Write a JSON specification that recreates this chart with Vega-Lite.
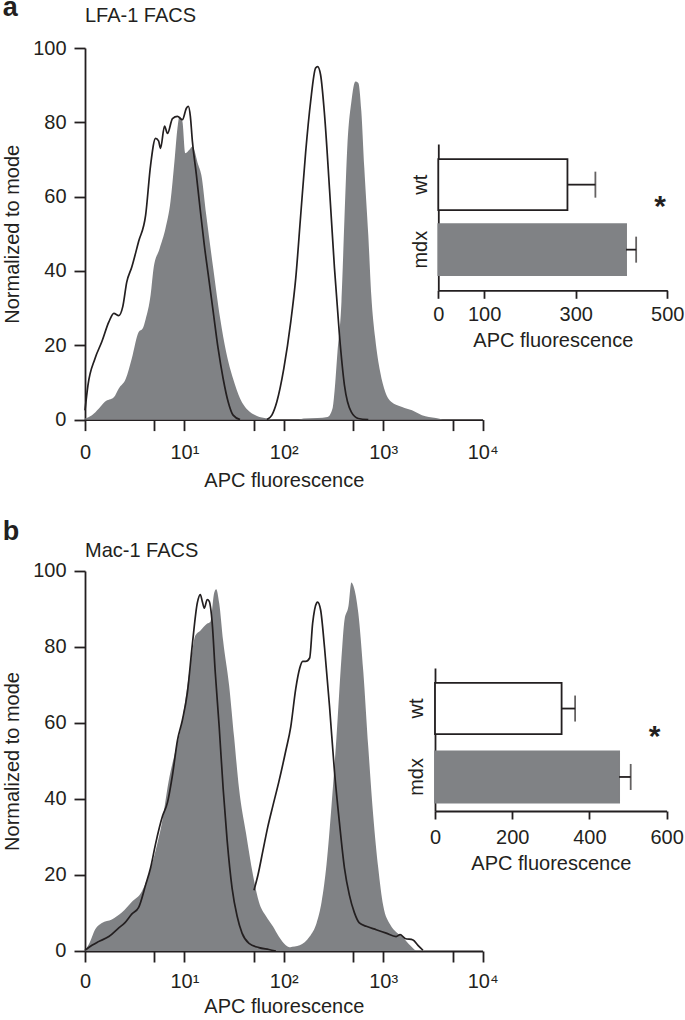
{
"$schema": "https://vega.github.io/schema/vega-lite/v6.json",
"padding": {"left": 2, "top": -6, "right": 0, "bottom": 0},
"config": {
  "font": "Liberation Sans",
  "view": {"stroke": null},
  "axis": {"grid": false, "domainColor": "#231f20", "tickColor": "#231f20", "labelColor": "#231f20", "titleColor": "#231f20", "labelFontSize": 20, "titleFontSize": 20, "titleFontWeight": "normal", "domainWidth": 1.8, "tickWidth": 1.8, "labelFont": "Liberation Sans", "titleFont": "Liberation Sans"},
  "title": {"font": "Liberation Sans", "color": "#231f20"}
},
"datasets": {
  "histA": [
    {"sample":"mdx iso-control","strain":"mdx","log_apc":0,"pct":0.3},{"sample":"mdx iso-control","strain":"mdx","log_apc":0.07,"pct":1.2},{"sample":"mdx iso-control","strain":"mdx","log_apc":0.14,"pct":3},{"sample":"mdx iso-control","strain":"mdx","log_apc":0.2,"pct":4.8},{"sample":"mdx iso-control","strain":"mdx","log_apc":0.29,"pct":6},{"sample":"mdx iso-control","strain":"mdx","log_apc":0.34,"pct":8.4},{"sample":"mdx iso-control","strain":"mdx","log_apc":0.41,"pct":11},{"sample":"mdx iso-control","strain":"mdx","log_apc":0.47,"pct":16.4},{"sample":"mdx iso-control","strain":"mdx","log_apc":0.54,"pct":23.6},{"sample":"mdx iso-control","strain":"mdx","log_apc":0.58,"pct":24.5},{"sample":"mdx iso-control","strain":"mdx","log_apc":0.61,"pct":27},{"sample":"mdx iso-control","strain":"mdx","log_apc":0.66,"pct":33.5},{"sample":"mdx iso-control","strain":"mdx","log_apc":0.69,"pct":40.7},{"sample":"mdx iso-control","strain":"mdx","log_apc":0.75,"pct":46},{"sample":"mdx iso-control","strain":"mdx","log_apc":0.81,"pct":51.5},{"sample":"mdx iso-control","strain":"mdx","log_apc":0.86,"pct":58.7},{"sample":"mdx iso-control","strain":"mdx","log_apc":0.9,"pct":69.5},{"sample":"mdx iso-control","strain":"mdx","log_apc":0.93,"pct":78.4},{"sample":"mdx iso-control","strain":"mdx","log_apc":0.95,"pct":81.6},{"sample":"mdx iso-control","strain":"mdx","log_apc":0.98,"pct":80.2},{"sample":"mdx iso-control","strain":"mdx","log_apc":1.01,"pct":71.7},{"sample":"mdx iso-control","strain":"mdx","log_apc":1.05,"pct":72.6},{"sample":"mdx iso-control","strain":"mdx","log_apc":1.08,"pct":73.5},{"sample":"mdx iso-control","strain":"mdx","log_apc":1.14,"pct":68.5},{"sample":"mdx iso-control","strain":"mdx","log_apc":1.17,"pct":65.9},{"sample":"mdx iso-control","strain":"mdx","log_apc":1.22,"pct":55},{"sample":"mdx iso-control","strain":"mdx","log_apc":1.29,"pct":40.7},{"sample":"mdx iso-control","strain":"mdx","log_apc":1.36,"pct":27.2},{"sample":"mdx iso-control","strain":"mdx","log_apc":1.42,"pct":18.2},{"sample":"mdx iso-control","strain":"mdx","log_apc":1.49,"pct":11},{"sample":"mdx iso-control","strain":"mdx","log_apc":1.56,"pct":5.7},{"sample":"mdx iso-control","strain":"mdx","log_apc":1.64,"pct":2.5},{"sample":"mdx iso-control","strain":"mdx","log_apc":1.73,"pct":1},{"sample":"mdx iso-control","strain":"mdx","log_apc":1.83,"pct":0.3},{"sample":"mdx iso-control","strain":"mdx","log_apc":1.9,"pct":0},
    {"sample":"mdx","strain":"mdx","log_apc":2.15,"pct":0},{"sample":"mdx","strain":"mdx","log_apc":2.2,"pct":0.3},{"sample":"mdx","strain":"mdx","log_apc":2.34,"pct":0.4},{"sample":"mdx","strain":"mdx","log_apc":2.44,"pct":0.7},{"sample":"mdx","strain":"mdx","log_apc":2.49,"pct":3},{"sample":"mdx","strain":"mdx","log_apc":2.51,"pct":7.5},{"sample":"mdx","strain":"mdx","log_apc":2.54,"pct":18.2},{"sample":"mdx","strain":"mdx","log_apc":2.58,"pct":31.7},{"sample":"mdx","strain":"mdx","log_apc":2.61,"pct":54},{"sample":"mdx","strain":"mdx","log_apc":2.64,"pct":74},{"sample":"mdx","strain":"mdx","log_apc":2.68,"pct":85.6},{"sample":"mdx","strain":"mdx","log_apc":2.72,"pct":91},{"sample":"mdx","strain":"mdx","log_apc":2.75,"pct":90.6},{"sample":"mdx","strain":"mdx","log_apc":2.78,"pct":83},{"sample":"mdx","strain":"mdx","log_apc":2.81,"pct":67.7},{"sample":"mdx","strain":"mdx","log_apc":2.85,"pct":49.7},{"sample":"mdx","strain":"mdx","log_apc":2.88,"pct":33.5},{"sample":"mdx","strain":"mdx","log_apc":2.92,"pct":21.8},{"sample":"mdx","strain":"mdx","log_apc":2.97,"pct":12.8},{"sample":"mdx","strain":"mdx","log_apc":3.02,"pct":7.5},{"sample":"mdx","strain":"mdx","log_apc":3.08,"pct":4.8},{"sample":"mdx","strain":"mdx","log_apc":3.19,"pct":3.4},{"sample":"mdx","strain":"mdx","log_apc":3.29,"pct":2.5},{"sample":"mdx","strain":"mdx","log_apc":3.39,"pct":1.2},{"sample":"mdx","strain":"mdx","log_apc":3.53,"pct":0.4},{"sample":"mdx","strain":"mdx","log_apc":3.6,"pct":0},
    {"sample":"WT iso-control","strain":"wt","log_apc":0,"pct":2.5},{"sample":"WT iso-control","strain":"wt","log_apc":0.03,"pct":9.3},{"sample":"WT iso-control","strain":"wt","log_apc":0.1,"pct":16.4},{"sample":"WT iso-control","strain":"wt","log_apc":0.17,"pct":21},{"sample":"WT iso-control","strain":"wt","log_apc":0.24,"pct":26.3},{"sample":"WT iso-control","strain":"wt","log_apc":0.29,"pct":28.6},{"sample":"WT iso-control","strain":"wt","log_apc":0.34,"pct":28},{"sample":"WT iso-control","strain":"wt","log_apc":0.38,"pct":30.4},{"sample":"WT iso-control","strain":"wt","log_apc":0.42,"pct":37},{"sample":"WT iso-control","strain":"wt","log_apc":0.47,"pct":41},{"sample":"WT iso-control","strain":"wt","log_apc":0.54,"pct":48},{"sample":"WT iso-control","strain":"wt","log_apc":0.61,"pct":55},{"sample":"WT iso-control","strain":"wt","log_apc":0.66,"pct":68.5},{"sample":"WT iso-control","strain":"wt","log_apc":0.71,"pct":75.7},{"sample":"WT iso-control","strain":"wt","log_apc":0.74,"pct":75},{"sample":"WT iso-control","strain":"wt","log_apc":0.76,"pct":73},{"sample":"WT iso-control","strain":"wt","log_apc":0.8,"pct":79},{"sample":"WT iso-control","strain":"wt","log_apc":0.83,"pct":77},{"sample":"WT iso-control","strain":"wt","log_apc":0.88,"pct":81},{"sample":"WT iso-control","strain":"wt","log_apc":0.93,"pct":81.6},{"sample":"WT iso-control","strain":"wt","log_apc":0.98,"pct":80.7},{"sample":"WT iso-control","strain":"wt","log_apc":1.02,"pct":83.8},{"sample":"WT iso-control","strain":"wt","log_apc":1.04,"pct":84.3},{"sample":"WT iso-control","strain":"wt","log_apc":1.06,"pct":81.6},{"sample":"WT iso-control","strain":"wt","log_apc":1.08,"pct":75},{"sample":"WT iso-control","strain":"wt","log_apc":1.12,"pct":66},{"sample":"WT iso-control","strain":"wt","log_apc":1.15,"pct":58.7},{"sample":"WT iso-control","strain":"wt","log_apc":1.2,"pct":47},{"sample":"WT iso-control","strain":"wt","log_apc":1.24,"pct":39},{"sample":"WT iso-control","strain":"wt","log_apc":1.29,"pct":29},{"sample":"WT iso-control","strain":"wt","log_apc":1.34,"pct":19},{"sample":"WT iso-control","strain":"wt","log_apc":1.39,"pct":11},{"sample":"WT iso-control","strain":"wt","log_apc":1.44,"pct":4.8},{"sample":"WT iso-control","strain":"wt","log_apc":1.49,"pct":1.2},{"sample":"WT iso-control","strain":"wt","log_apc":1.56,"pct":0},
    {"sample":"WT","strain":"wt","log_apc":1.83,"pct":0},{"sample":"WT","strain":"wt","log_apc":1.88,"pct":1.2},{"sample":"WT","strain":"wt","log_apc":1.93,"pct":4.8},{"sample":"WT","strain":"wt","log_apc":2.0,"pct":13.7},{"sample":"WT","strain":"wt","log_apc":2.07,"pct":26.3},{"sample":"WT","strain":"wt","log_apc":2.12,"pct":38},{"sample":"WT","strain":"wt","log_apc":2.17,"pct":55},{"sample":"WT","strain":"wt","log_apc":2.22,"pct":72},{"sample":"WT","strain":"wt","log_apc":2.27,"pct":85.6},{"sample":"WT","strain":"wt","log_apc":2.32,"pct":94.6},{"sample":"WT","strain":"wt","log_apc":2.34,"pct":95},{"sample":"WT","strain":"wt","log_apc":2.37,"pct":92.8},{"sample":"WT","strain":"wt","log_apc":2.41,"pct":82},{"sample":"WT","strain":"wt","log_apc":2.46,"pct":62},{"sample":"WT","strain":"wt","log_apc":2.51,"pct":40.7},{"sample":"WT","strain":"wt","log_apc":2.56,"pct":22.7},{"sample":"WT","strain":"wt","log_apc":2.61,"pct":9.3},{"sample":"WT","strain":"wt","log_apc":2.68,"pct":2},{"sample":"WT","strain":"wt","log_apc":2.75,"pct":0.3},{"sample":"WT","strain":"wt","log_apc":2.85,"pct":0}
  ],
  "histB": [
    {"sample":"mdx iso-control","strain":"mdx","log_apc":0,"pct":0.2},{"sample":"mdx iso-control","strain":"mdx","log_apc":0.05,"pct":2.4},{"sample":"mdx iso-control","strain":"mdx","log_apc":0.1,"pct":5.6},{"sample":"mdx iso-control","strain":"mdx","log_apc":0.17,"pct":7.4},{"sample":"mdx iso-control","strain":"mdx","log_apc":0.27,"pct":8.3},{"sample":"mdx iso-control","strain":"mdx","log_apc":0.37,"pct":10.1},{"sample":"mdx iso-control","strain":"mdx","log_apc":0.47,"pct":12.9},{"sample":"mdx iso-control","strain":"mdx","log_apc":0.57,"pct":15.6},{"sample":"mdx iso-control","strain":"mdx","log_apc":0.64,"pct":20},{"sample":"mdx iso-control","strain":"mdx","log_apc":0.71,"pct":26.4},{"sample":"mdx iso-control","strain":"mdx","log_apc":0.78,"pct":34.6},{"sample":"mdx iso-control","strain":"mdx","log_apc":0.84,"pct":44.5},{"sample":"mdx iso-control","strain":"mdx","log_apc":0.91,"pct":52.7},{"sample":"mdx iso-control","strain":"mdx","log_apc":0.96,"pct":58},{"sample":"mdx iso-control","strain":"mdx","log_apc":1.01,"pct":66.2},{"sample":"mdx iso-control","strain":"mdx","log_apc":1.06,"pct":75.3},{"sample":"mdx iso-control","strain":"mdx","log_apc":1.11,"pct":83},{"sample":"mdx iso-control","strain":"mdx","log_apc":1.16,"pct":84.3},{"sample":"mdx iso-control","strain":"mdx","log_apc":1.23,"pct":86.2},{"sample":"mdx iso-control","strain":"mdx","log_apc":1.26,"pct":86.6},{"sample":"mdx iso-control","strain":"mdx","log_apc":1.3,"pct":94.3},{"sample":"mdx iso-control","strain":"mdx","log_apc":1.32,"pct":95.2},{"sample":"mdx iso-control","strain":"mdx","log_apc":1.35,"pct":91.6},{"sample":"mdx iso-control","strain":"mdx","log_apc":1.39,"pct":81.6},{"sample":"mdx iso-control","strain":"mdx","log_apc":1.45,"pct":69.9},{"sample":"mdx iso-control","strain":"mdx","log_apc":1.5,"pct":56.3},{"sample":"mdx iso-control","strain":"mdx","log_apc":1.55,"pct":42.7},{"sample":"mdx iso-control","strain":"mdx","log_apc":1.62,"pct":31},{"sample":"mdx iso-control","strain":"mdx","log_apc":1.69,"pct":20},{"sample":"mdx iso-control","strain":"mdx","log_apc":1.75,"pct":12.9},{"sample":"mdx iso-control","strain":"mdx","log_apc":1.82,"pct":9.2},{"sample":"mdx iso-control","strain":"mdx","log_apc":1.89,"pct":6.5},{"sample":"mdx iso-control","strain":"mdx","log_apc":1.95,"pct":3.8},{"sample":"mdx iso-control","strain":"mdx","log_apc":2.02,"pct":1.5},{"sample":"mdx iso-control","strain":"mdx","log_apc":2.09,"pct":0.6},{"sample":"mdx iso-control","strain":"mdx","log_apc":2.15,"pct":0},
    {"sample":"mdx","strain":"mdx","log_apc":2.0,"pct":0},{"sample":"mdx","strain":"mdx","log_apc":2.06,"pct":0.9},{"sample":"mdx","strain":"mdx","log_apc":2.16,"pct":1.5},{"sample":"mdx","strain":"mdx","log_apc":2.26,"pct":3.8},{"sample":"mdx","strain":"mdx","log_apc":2.33,"pct":7.4},{"sample":"mdx","strain":"mdx","log_apc":2.38,"pct":12.9},{"sample":"mdx","strain":"mdx","log_apc":2.43,"pct":22.8},{"sample":"mdx","strain":"mdx","log_apc":2.48,"pct":38.2},{"sample":"mdx","strain":"mdx","log_apc":2.53,"pct":56.3},{"sample":"mdx","strain":"mdx","log_apc":2.58,"pct":77.1},{"sample":"mdx","strain":"mdx","log_apc":2.61,"pct":87},{"sample":"mdx","strain":"mdx","log_apc":2.65,"pct":90.7},{"sample":"mdx","strain":"mdx","log_apc":2.68,"pct":97},{"sample":"mdx","strain":"mdx","log_apc":2.7,"pct":96.1},{"sample":"mdx","strain":"mdx","log_apc":2.75,"pct":88.9},{"sample":"mdx","strain":"mdx","log_apc":2.8,"pct":73.5},{"sample":"mdx","strain":"mdx","log_apc":2.85,"pct":53.6},{"sample":"mdx","strain":"mdx","log_apc":2.9,"pct":35.5},{"sample":"mdx","strain":"mdx","log_apc":2.95,"pct":21.9},{"sample":"mdx","strain":"mdx","log_apc":3.0,"pct":12},{"sample":"mdx","strain":"mdx","log_apc":3.07,"pct":7},{"sample":"mdx","strain":"mdx","log_apc":3.13,"pct":5},{"sample":"mdx","strain":"mdx","log_apc":3.2,"pct":3.5},{"sample":"mdx","strain":"mdx","log_apc":3.27,"pct":1.5},{"sample":"mdx","strain":"mdx","log_apc":3.33,"pct":0},
    {"sample":"WT iso-control","strain":"wt","log_apc":0,"pct":0.2},{"sample":"WT iso-control","strain":"wt","log_apc":0.07,"pct":1.5},{"sample":"WT iso-control","strain":"wt","log_apc":0.13,"pct":2.4},{"sample":"WT iso-control","strain":"wt","log_apc":0.24,"pct":3.8},{"sample":"WT iso-control","strain":"wt","log_apc":0.34,"pct":6.1},{"sample":"WT iso-control","strain":"wt","log_apc":0.4,"pct":7.4},{"sample":"WT iso-control","strain":"wt","log_apc":0.47,"pct":9.7},{"sample":"WT iso-control","strain":"wt","log_apc":0.54,"pct":11.5},{"sample":"WT iso-control","strain":"wt","log_apc":0.61,"pct":17.4},{"sample":"WT iso-control","strain":"wt","log_apc":0.66,"pct":21.9},{"sample":"WT iso-control","strain":"wt","log_apc":0.71,"pct":28.2},{"sample":"WT iso-control","strain":"wt","log_apc":0.78,"pct":35.5},{"sample":"WT iso-control","strain":"wt","log_apc":0.83,"pct":39.1},{"sample":"WT iso-control","strain":"wt","log_apc":0.88,"pct":46.3},{"sample":"WT iso-control","strain":"wt","log_apc":0.93,"pct":55.4},{"sample":"WT iso-control","strain":"wt","log_apc":0.98,"pct":60.8},{"sample":"WT iso-control","strain":"wt","log_apc":1.03,"pct":68},{"sample":"WT iso-control","strain":"wt","log_apc":1.08,"pct":80.7},{"sample":"WT iso-control","strain":"wt","log_apc":1.13,"pct":91.6},{"sample":"WT iso-control","strain":"wt","log_apc":1.16,"pct":93.8},{"sample":"WT iso-control","strain":"wt","log_apc":1.18,"pct":92},{"sample":"WT iso-control","strain":"wt","log_apc":1.2,"pct":90.2},{"sample":"WT iso-control","strain":"wt","log_apc":1.23,"pct":92.5},{"sample":"WT iso-control","strain":"wt","log_apc":1.25,"pct":92},{"sample":"WT iso-control","strain":"wt","log_apc":1.28,"pct":86.2},{"sample":"WT iso-control","strain":"wt","log_apc":1.31,"pct":73.5},{"sample":"WT iso-control","strain":"wt","log_apc":1.35,"pct":59},{"sample":"WT iso-control","strain":"wt","log_apc":1.39,"pct":42.7},{"sample":"WT iso-control","strain":"wt","log_apc":1.43,"pct":29.1},{"sample":"WT iso-control","strain":"wt","log_apc":1.48,"pct":16.5},{"sample":"WT iso-control","strain":"wt","log_apc":1.53,"pct":9.2},{"sample":"WT iso-control","strain":"wt","log_apc":1.58,"pct":4.7},{"sample":"WT iso-control","strain":"wt","log_apc":1.65,"pct":2},{"sample":"WT iso-control","strain":"wt","log_apc":1.75,"pct":0.9},{"sample":"WT iso-control","strain":"wt","log_apc":1.85,"pct":0.4},{"sample":"WT iso-control","strain":"wt","log_apc":1.92,"pct":0},
    {"sample":"WT","strain":"wt","log_apc":1.7,"pct":16},{"sample":"WT","strain":"wt","log_apc":1.74,"pct":20},{"sample":"WT","strain":"wt","log_apc":1.79,"pct":26.4},{"sample":"WT","strain":"wt","log_apc":1.84,"pct":32.8},{"sample":"WT","strain":"wt","log_apc":1.89,"pct":38.2},{"sample":"WT","strain":"wt","log_apc":1.95,"pct":44.5},{"sample":"WT","strain":"wt","log_apc":2.02,"pct":52.7},{"sample":"WT","strain":"wt","log_apc":2.07,"pct":59},{"sample":"WT","strain":"wt","log_apc":2.12,"pct":69},{"sample":"WT","strain":"wt","log_apc":2.16,"pct":74.4},{"sample":"WT","strain":"wt","log_apc":2.19,"pct":76.2},{"sample":"WT","strain":"wt","log_apc":2.22,"pct":76.2},{"sample":"WT","strain":"wt","log_apc":2.26,"pct":77.1},{"sample":"WT","strain":"wt","log_apc":2.29,"pct":86.2},{"sample":"WT","strain":"wt","log_apc":2.33,"pct":91.6},{"sample":"WT","strain":"wt","log_apc":2.34,"pct":91.8},{"sample":"WT","strain":"wt","log_apc":2.37,"pct":89.8},{"sample":"WT","strain":"wt","log_apc":2.41,"pct":79.8},{"sample":"WT","strain":"wt","log_apc":2.46,"pct":64.4},{"sample":"WT","strain":"wt","log_apc":2.51,"pct":47.2},{"sample":"WT","strain":"wt","log_apc":2.56,"pct":33.7},{"sample":"WT","strain":"wt","log_apc":2.61,"pct":21.9},{"sample":"WT","strain":"wt","log_apc":2.66,"pct":14.7},{"sample":"WT","strain":"wt","log_apc":2.71,"pct":10.1},{"sample":"WT","strain":"wt","log_apc":2.76,"pct":7.4},{"sample":"WT","strain":"wt","log_apc":2.83,"pct":6.5},{"sample":"WT","strain":"wt","log_apc":2.93,"pct":5.6},{"sample":"WT","strain":"wt","log_apc":3.03,"pct":4.7},{"sample":"WT","strain":"wt","log_apc":3.13,"pct":3.8},{"sample":"WT","strain":"wt","log_apc":3.17,"pct":4.3},{"sample":"WT","strain":"wt","log_apc":3.22,"pct":3.3},{"sample":"WT","strain":"wt","log_apc":3.3,"pct":2.9},{"sample":"WT","strain":"wt","log_apc":3.35,"pct":1.5},{"sample":"WT","strain":"wt","log_apc":3.4,"pct":0.2}
  ],
  "barsA": [{"group":"wt","mean":282,"upper":343,"sig":""},{"group":"mdx","mean":410,"upper":432,"sig":"*"}],
  "barsB": [{"group":"wt","mean":328,"upper":363,"sig":""},{"group":"mdx","mean":477,"upper":507,"sig":"*"}]
},
"spacing": 27,
"vconcat": [
  {
    "title": {"text": "a", "anchor": "start", "frame": "bounds", "fontSize": 27, "fontWeight": "bold", "offset": -16},
    "vconcat": [{
      "width": 397.6, "height": 371.6,
      "title": {"text": "LFA-1 FACS", "anchor": "start", "frame": "group", "fontSize": 20, "fontWeight": "normal", "offset": 12},
      "layer": [
        {
          "data": {"name": "histA"},
          "layer": [
            {"transform": [{"filter": "datum.strain == 'mdx'"}],
             "mark": {"type": "area", "color": "#808285", "interpolate": "monotone"},
             "encoding": {
               "x": {"field": "log_apc", "type": "quantitative", "scale": {"domain": [0, 4], "nice": false, "zero": false},
                     "axis": {"title": "APC fluorescence", "orient": "bottom", "values": [0, 0.699, 1, 1.699, 2, 2.699, 3, 3.699, 4], "labelExpr": "datum.value==0?'0':datum.value==1?'10¹':datum.value==2?'10²':datum.value==3?'10³':datum.value==4?'10⁴':''", "tickSize": 11, "labelPadding": 12, "titlePadding": 8, "labelFlush": false, "labelOverlap": false}},
               "y": {"field": "pct", "type": "quantitative", "stack": null, "scale": {"domain": [0, 100], "nice": false},
                     "axis": {"title": "Normalized to mode", "orient": "left", "values": [0, 20, 40, 60, 80, 100], "tickSize": 11, "labelPadding": 8, "titlePadding": 10}},
               "detail": {"field": "sample"}
             }},
            {"transform": [{"filter": "datum.strain == 'wt'"}],
             "mark": {"type": "line", "color": "#231f20", "strokeWidth": 1.7, "interpolate": "monotone"},
             "encoding": {
               "x": {"field": "log_apc", "type": "quantitative", "title": "APC fluorescence"},
               "y": {"field": "pct", "type": "quantitative", "title": "Normalized to mode"},
               "detail": {"field": "sample"}
             }}
          ]
        },
        {
          "data": {"name": "barsA"},
          "layer": [
            {"mark": {"type": "bar", "strokeWidth": 1.8},
             "encoding": {
               "y": {"field": "group", "type": "nominal", "sort": ["wt", "mdx"], "scale": {"domain": ["wt", "mdx"], "range": [96, 242.3], "paddingInner": 0.215, "paddingOuter": 0.233},
                     "axis": {"orient": "left", "offset": -353.3, "title": null, "ticks": false, "tickSize": 0, "labelAngle": -90, "labelPadding": 8}},
               "x": {"field": "mean", "type": "quantitative", "scale": {"domain": [0, 500], "range": [353.3, 582.3], "nice": false},
                     "axis": {"orient": "bottom", "offset": -129.3, "values": [0, 100, 300, 500], "title": "APC fluorescence", "tickSize": 8, "labelPadding": 6, "titlePadding": 6, "labelFlush": false}},
               "fill": {"field": "group", "type": "nominal", "scale": {"domain": ["wt", "mdx"], "range": ["#ffffff", "#808285"]}, "legend": null},
               "stroke": {"field": "group", "type": "nominal", "scale": {"domain": ["wt", "mdx"], "range": ["#231f20", "#808285"]}, "legend": null}
             }},
            {"mark": {"type": "rule", "strokeWidth": 1.8, "color": "#231f20"},
             "encoding": {"y": {"field": "group", "type": "nominal", "title": null}, "x": {"field": "mean", "type": "quantitative", "title": "APC fluorescence"}, "x2": {"field": "upper"}}},
            {"mark": {"type": "tick", "orient": "vertical", "size": 26, "thickness": 1.8, "color": "#231f20"},
             "encoding": {"y": {"field": "group", "type": "nominal", "title": null}, "x": {"field": "upper", "type": "quantitative", "title": "APC fluorescence"}}},
            {"mark": {"type": "text", "fontSize": 30, "fontWeight": "bold", "dx": 24, "dy": -43, "align": "center", "baseline": "middle", "color": "#231f20"},
             "encoding": {"y": {"field": "group", "type": "nominal", "title": null}, "x": {"field": "upper", "type": "quantitative", "title": "APC fluorescence"}, "text": {"field": "sig"}}}
          ]
        }
      ],
      "resolve": {"scale": {"x": "independent", "y": "independent", "fill": "independent", "stroke": "independent"}, "axis": {"x": "independent", "y": "independent"}}
    }]
  },
  {
    "title": {"text": "b", "anchor": "start", "frame": "bounds", "fontSize": 27, "fontWeight": "bold", "offset": -5},
    "vconcat": [{
      "width": 397.6, "height": 380,
      "title": {"text": "Mac-1 FACS", "anchor": "start", "frame": "group", "fontSize": 20, "fontWeight": "normal", "offset": 0},
      "layer": [
        {
          "data": {"name": "histB"},
          "layer": [
            {"transform": [{"filter": "datum.strain == 'mdx'"}],
             "mark": {"type": "area", "color": "#808285", "interpolate": "monotone"},
             "encoding": {
               "x": {"field": "log_apc", "type": "quantitative", "scale": {"domain": [0, 4], "nice": false, "zero": false},
                     "axis": {"title": "APC fluorescence", "orient": "bottom", "values": [0, 0.699, 1, 1.699, 2, 2.699, 3, 3.699, 4], "labelExpr": "datum.value==0?'0':datum.value==1?'10¹':datum.value==2?'10²':datum.value==3?'10³':datum.value==4?'10⁴':''", "tickSize": 11, "labelPadding": 10, "titlePadding": 5, "labelFlush": false, "labelOverlap": false}},
               "y": {"field": "pct", "type": "quantitative", "stack": null, "scale": {"domain": [0, 100], "nice": false},
                     "axis": {"title": "Normalized to mode", "orient": "left", "values": [0, 20, 40, 60, 80, 100], "tickSize": 11, "labelPadding": 8, "titlePadding": 10}},
               "detail": {"field": "sample"}
             }},
            {"transform": [{"filter": "datum.strain == 'wt'"}],
             "mark": {"type": "line", "color": "#231f20", "strokeWidth": 1.7, "interpolate": "monotone"},
             "encoding": {
               "x": {"field": "log_apc", "type": "quantitative", "title": "APC fluorescence"},
               "y": {"field": "pct", "type": "quantitative", "title": "Normalized to mode"},
               "detail": {"field": "sample"}
             }}
          ]
        },
        {
          "data": {"name": "barsB"},
          "layer": [
            {"mark": {"type": "bar", "strokeWidth": 1.8},
             "encoding": {
               "y": {"field": "group", "type": "nominal", "sort": ["wt", "mdx"], "scale": {"domain": ["wt", "mdx"], "range": [97, 240], "paddingInner": 0.25, "paddingOuter": 0.17, "align": 0.64},
                     "axis": {"orient": "left", "offset": -350, "title": null, "ticks": false, "tickSize": 0, "labelAngle": -90, "labelPadding": 8}},
               "x": {"field": "mean", "type": "quantitative", "scale": {"domain": [0, 600], "range": [350, 581.6], "nice": false},
                     "axis": {"orient": "bottom", "offset": -140, "values": [0, 200, 400, 600], "title": "APC fluorescence", "tickSize": 8, "labelPadding": 9, "titlePadding": 6, "labelFlush": false}},
               "fill": {"field": "group", "type": "nominal", "scale": {"domain": ["wt", "mdx"], "range": ["#ffffff", "#808285"]}, "legend": null},
               "stroke": {"field": "group", "type": "nominal", "scale": {"domain": ["wt", "mdx"], "range": ["#231f20", "#808285"]}, "legend": null}
             }},
            {"mark": {"type": "rule", "strokeWidth": 1.8, "color": "#231f20"},
             "encoding": {"y": {"field": "group", "type": "nominal", "title": null}, "x": {"field": "mean", "type": "quantitative", "title": "APC fluorescence"}, "x2": {"field": "upper"}}},
            {"mark": {"type": "tick", "orient": "vertical", "size": 26, "thickness": 1.8, "color": "#231f20"},
             "encoding": {"y": {"field": "group", "type": "nominal", "title": null}, "x": {"field": "upper", "type": "quantitative", "title": "APC fluorescence"}}},
            {"mark": {"type": "text", "fontSize": 30, "fontWeight": "bold", "dx": 24, "dy": -40, "align": "center", "baseline": "middle", "color": "#231f20"},
             "encoding": {"y": {"field": "group", "type": "nominal", "title": null}, "x": {"field": "upper", "type": "quantitative", "title": "APC fluorescence"}, "text": {"field": "sig"}}}
          ]
        }
      ],
      "resolve": {"scale": {"x": "independent", "y": "independent", "fill": "independent", "stroke": "independent"}, "axis": {"x": "independent", "y": "independent"}}
    }]
  }
]
}
